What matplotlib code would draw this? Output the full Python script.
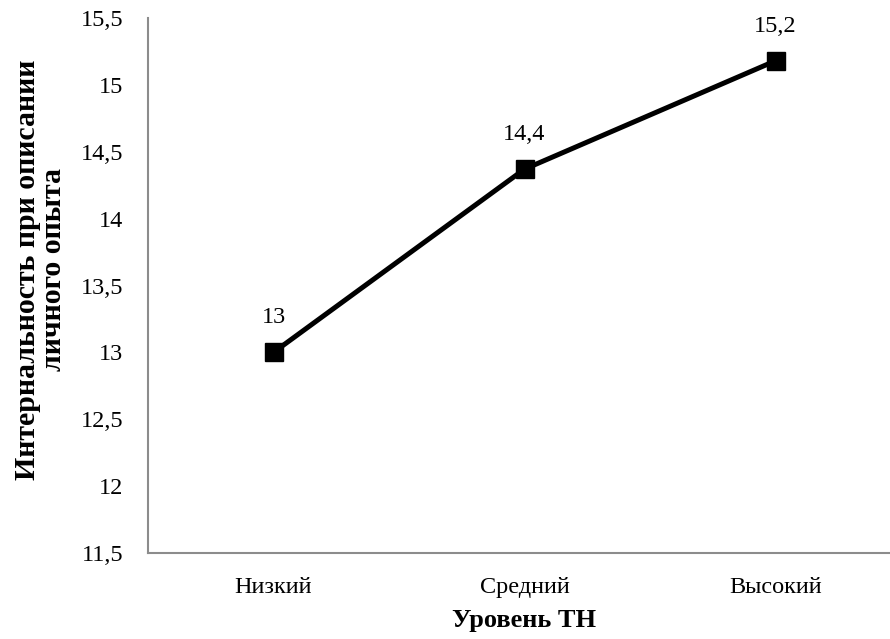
import matplotlib
matplotlib.use('Agg')
import matplotlib.pyplot as plt

plt.rcParams['font.family'] = ['Liberation Serif', 'DejaVu Serif']

categories = ['Низкий', 'Средний', 'Высокий']
values = [13.0, 14.37, 15.18]
value_labels = ['13', '14,4', '15,2']
yticks = [11.5, 12, 12.5, 13, 13.5, 14, 14.5, 15, 15.5]
ytick_labels = ['11,5', '12', '12,5', '13', '13,5', '14', '14,5', '15', '15,5']

fig = plt.figure(figsize=(8.9, 6.39), dpi=100)
ax = fig.add_axes([148 / 890, 1 - 553 / 639, 753 / 890, 535 / 639])

x = list(range(len(categories)))
ax.plot(x, values, color='black', linewidth=3.6, marker='s', markersize=13,
        markerfacecolor='black', markeredgecolor='black')

for xi, v, lab in zip(x, values, value_labels):
    ax.annotate(lab, (xi, v), xytext=(0, 21), textcoords='offset points',
                ha='center', va='baseline', fontsize=17.5)

ax.set_xlim(-0.5, 2.5)
ax.set_ylim(11.5, 15.5)
ax.set_xticks(x)
ax.set_xticklabels(categories, fontsize=17.5)
ax.set_yticks(yticks)
ax.set_yticklabels(ytick_labels, fontsize=17.5)
ax.tick_params(axis='x', length=0, pad=17)
ax.tick_params(axis='y', length=0, pad=18)

for s in ['top', 'right']:
    ax.spines[s].set_visible(False)
for s in ['left', 'bottom']:
    ax.spines[s].set_color('#8c8c8c')
    ax.spines[s].set_linewidth(1.5)

ax.set_xlabel('Уровень ТН', fontsize=19, fontweight='bold', labelpad=8)
ax.set_ylabel('Интернальность при описании\nличного опыта', fontsize=21.5,
              fontweight='bold', linespacing=0.95)
ax.yaxis.set_label_coords(-0.108, 0.53)

fig.savefig('out.png', dpi=100)
